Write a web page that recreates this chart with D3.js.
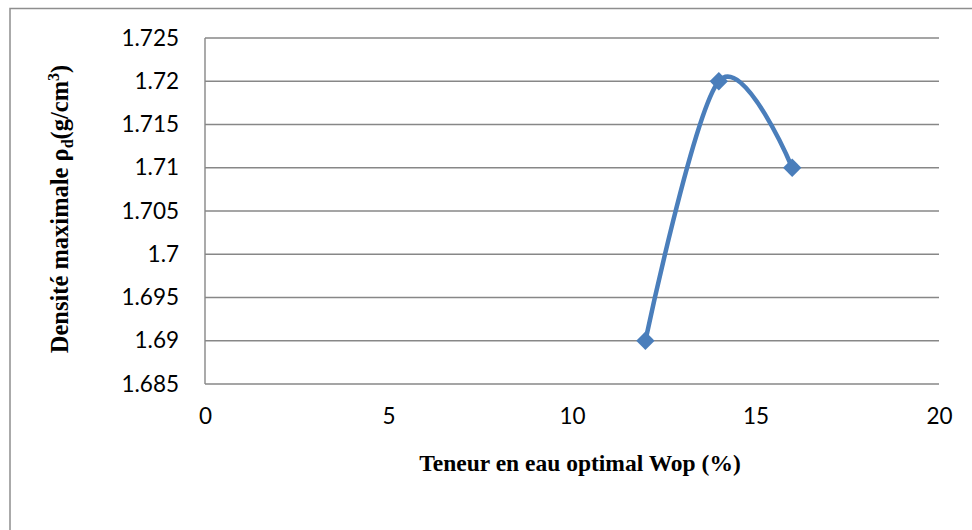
<!DOCTYPE html>
<html>
<head>
<meta charset="utf-8">
<script src="https://cdn.jsdelivr.net/npm/d3@7"></script>
<style>
  html, body { margin: 0; padding: 0; background: #fff; }
  svg { display: block; }
</style>
</head>
<body>
<div id="chart"></div>
<script>
(function () {
  "use strict";

  // --- Data ---
  const waterContent = [12, 14, 16];
  const dryDensity = [1.69, 1.72, 1.71];
  const yTicks = [1.685, 1.69, 1.695, 1.7, 1.705, 1.71, 1.715, 1.72, 1.725];
  const xTicks = [0, 5, 10, 15, 20];
  const xTitle = "Teneur en eau optimal Wop (%)";

  const width = 972;
  const height = 530;
  const margin = { left: 205, right: 33, top: 38, bottom: 146 };

  const svg = d3.select("#chart").append("svg")
    .attr("width", width)
    .attr("height", height);

  // outer chart border (right and bottom edges fall off the frame)
  svg.append("rect")
    .attr("x", 10).attr("y", 8.5)
    .attr("width", 1000).attr("height", 600)
    .attr("fill", "none")
    .attr("stroke", "#8e8e8e")
    .attr("stroke-width", 1.5);

  const x = d3.scaleLinear().domain([0, 20]).range([margin.left, width - margin.right]);
  const y = d3.scaleLinear().domain([1.685, 1.725]).range([height - margin.bottom, margin.top]);

  // --- Gridlines ---
  svg.append("g")
    .selectAll("line")
    .data(yTicks)
    .join("line")
    .attr("x1", x(0)).attr("x2", x(20))
    .attr("y1", (d) => y(d)).attr("y2", (d) => y(d))
    .attr("stroke", "#878787")
    .attr("stroke-width", 1.4);

  // vertical axis line
  svg.append("line")
    .attr("x1", x(0)).attr("x2", x(0))
    .attr("y1", y(1.725)).attr("y2", y(1.685))
    .attr("stroke", "#878787")
    .attr("stroke-width", 1.4);

  // --- Axes (labels only) ---
  const yAxis = d3.axisLeft(y)
    .tickValues(yTicks)
    .tickFormat((d) => String(+d.toFixed(3)))
    .tickSize(0)
    .tickPadding(26);
  svg.append("g")
    .attr("transform", `translate(${x(0)},0)`)
    .call(yAxis)
    .call((g) => g.select(".domain").remove())
    .selectAll("text")
    .attr("font-family", "Lato, 'Open Sans', sans-serif")
    .attr("font-size", 22.5)
    .attr("fill", "#000");

  const xAxis = d3.axisBottom(x)
    .tickValues(xTicks)
    .tickFormat(d3.format("d"))
    .tickSize(0)
    .tickPadding(24);
  svg.append("g")
    .attr("transform", `translate(0,${y(1.685)})`)
    .call(xAxis)
    .call((g) => g.select(".domain").remove())
    .selectAll("text")
    .attr("font-family", "Lato, 'Open Sans', sans-serif")
    .attr("font-size", 22.5)
    .attr("fill", "#000");

  // --- Axis titles ---
  svg.append("text")
    .attr("x", 580)
    .attr("y", 471)
    .attr("text-anchor", "middle")
    .attr("font-family", "'Liberation Serif', 'Times New Roman', serif")
    .attr("font-weight", "bold")
    .attr("font-size", 23.5)
    .attr("fill", "#000")
    .text(xTitle);

  const yTitle = svg.append("text")
    .attr("transform", "translate(68,209) rotate(-90)")
    .attr("text-anchor", "middle")
    .attr("font-family", "'Liberation Serif', 'Times New Roman', serif")
    .attr("font-weight", "bold")
    .attr("font-size", 24.5)
    .attr("fill", "#000");
  yTitle.append("tspan").text("Densité maximale ρ");
  yTitle.append("tspan").attr("font-size", 16).attr("dy", 5).text("d");
  yTitle.append("tspan").attr("dy", -5).text("(g/cm");
  yTitle.append("tspan").attr("font-size", 16).attr("dy", -9).text("3");
  yTitle.append("tspan").attr("dy", 9).text(")");

  // --- Series ---
  const points = waterContent.map((w, i) => ({ w, rho: dryDensity[i] }));
  const color = "#4a7ebb";

  const line = d3.line()
    .x((d) => x(d.w))
    .y((d) => y(d.rho))
    .curve(d3.curveCardinal.tension(0));

  svg.append("path")
    .datum(points)
    .attr("d", line)
    .attr("fill", "none")
    .attr("stroke", color)
    .attr("stroke-width", 4.5)
    .attr("stroke-linecap", "round");

  svg.append("g")
    .selectAll("rect")
    .data(points)
    .join("rect")
    .attr("x", -6.5).attr("y", -6.5)
    .attr("width", 13).attr("height", 13)
    .attr("transform", (d) => `translate(${x(d.w)},${y(d.rho)}) rotate(45)`)
    .attr("fill", color);
})();
</script>
</body>
</html>
